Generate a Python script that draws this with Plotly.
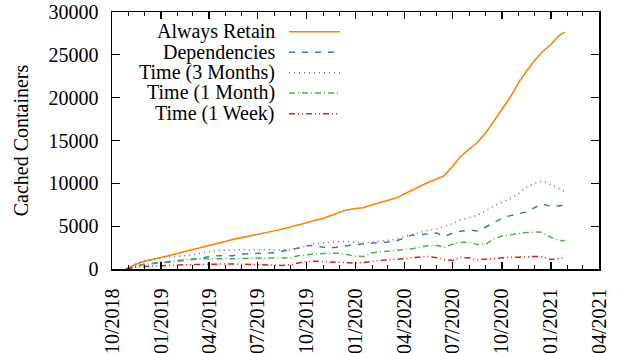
import plotly.graph_objects as go

dates = ["2018-10-28","2018-11-15","2018-12-01","2018-12-15","2019-01-01","2019-01-15",
         "2019-02-01","2019-02-15","2019-03-01","2019-03-15","2019-04-01","2019-04-15",
         "2019-05-01","2019-05-15","2019-06-01","2019-06-15","2019-07-01","2019-07-15",
         "2019-08-01","2019-08-15","2019-09-01","2019-09-15","2019-10-01","2019-10-15",
         "2019-11-01","2019-11-15","2019-12-01","2019-12-15","2020-01-01","2020-01-15",
         "2020-02-01","2020-02-15","2020-03-01","2020-03-15","2020-04-01","2020-04-15",
         "2020-05-01","2020-05-15","2020-06-01","2020-06-15","2020-07-01","2020-07-15",
         "2020-08-01","2020-08-15","2020-09-01","2020-09-15","2020-10-01","2020-10-15",
         "2020-11-01","2020-11-15","2020-12-01","2020-12-15","2021-01-01","2021-01-15",
         "2021-01-27"]

always_retain = [0,550,900,1100,1300,1500,1800,2050,2250,2450,2700,2950,3200,3450,3650,3850,
                 4050,4250,4450,4650,4900,5150,5400,5650,5900,6250,6600,6900,7050,7150,7500,
                 7750,8000,8250,8750,9200,9700,10100,10500,10900,12000,13100,14000,14700,15900,
                 17200,18600,19900,21700,23000,24300,25300,26200,27200,27650]
dependencies = [0,350,550,620,680,750,900,1000,1100,1250,1450,1550,1560,1560,1750,1800,1850,
                1870,1900,2050,2250,2450,2700,2750,2550,2450,2600,2750,2850,2930,3050,3100,
                3150,3250,3600,3950,4000,4100,4200,3800,4200,4400,4550,4450,4900,5400,5900,
                6200,6450,6650,7150,7600,7300,7350,7450]
time_3_months = [0,600,950,1150,1300,1380,1450,1500,1650,1850,2000,2150,2200,2250,2250,2230,
                 2270,2250,2230,2260,2250,2400,2700,2950,3050,3150,3200,3220,3150,3040,3150,
                 3250,3350,3450,3800,4050,4300,4500,4700,4950,5300,5700,6000,6250,6800,7350,
                 7800,8150,8800,9500,10000,10250,9850,9400,9000]
time_1_month = [0,350,550,650,720,800,920,1050,1180,1200,1170,1170,1190,1200,1250,1280,1280,
                1280,1280,1220,1300,1550,1700,1750,1800,1850,1850,1700,1500,1450,1900,2000,
                2100,2200,2280,2350,2550,2700,2750,2550,2900,3100,3150,2850,2900,3500,3850,
                4000,4150,4250,4320,4280,3700,3350,3300]
time_1_week = [0,200,280,340,400,430,470,500,530,560,580,580,580,580,570,540,500,480,450,420,
               500,700,880,900,860,830,780,720,700,750,920,1000,1050,1100,1200,1300,1400,1470,
               1300,1100,1000,1350,1300,1050,1150,1230,1320,1360,1380,1420,1470,1420,1100,1200,
               1330]

series_names = ["Always Retain", "Dependencies", "Time (3 Months)", "Time (1 Month)", "Time (1 Week)"]
series_values = [always_retain, dependencies, time_3_months, time_1_month, time_1_week]
colors = ["#ff7f00", "#377eb8", "#984ea3", "#4daf4a", "#e41a1c"]
dashes = ["solid", "6px,7px", "1px,4px", "6px,3px,1px,3px", "6px,3px,1px,3px,1px,3px"]

FONT = "Liberation Serif"

fig = go.Figure()
for name, vals, c, d in zip(series_names, series_values, colors, dashes):
    fig.add_trace(go.Scatter(x=dates, y=vals, mode="lines", name=name,
                             line=dict(color=c, width=1.5, dash=d), showlegend=False))

# gnuplot-style key: text right-aligned, sample line to the right
key_y = [0.923, 0.843, 0.764, 0.685, 0.604]
for name, c, d, ky in zip(series_names, colors, dashes, key_y):
    fig.add_annotation(x=0.338, y=ky, xref="paper", yref="paper", text=name,
                       showarrow=False, xanchor="right", yanchor="middle",
                       font=dict(family=FONT, size=20, color="black"))
    fig.add_shape(type="line", xref="paper", yref="paper", x0=0.3635, x1=0.468,
                  y0=ky, y1=ky, line=dict(color=c, width=1.5, dash=d))

fig.update_layout(
    width=619, height=353,
    margin=dict(l=112, r=20, t=12, b=84, autoexpand=False),
    paper_bgcolor="white", plot_bgcolor="white",
    font=dict(family=FONT, size=20, color="black"),
    xaxis=dict(
        type="date", range=["2018-10-01", "2021-04-01"], automargin=False,
        tick0="2018-10-01", dtick="M3", tickformat="%m/%Y", tickangle=-90,
        ticks="inside", ticklen=7, tickwidth=1.2, tickcolor="black",
        minor=dict(dtick="M1", ticks="inside", ticklen=4, tickwidth=1, tickcolor="black"),
        showline=True, linecolor="black", linewidth=1.5, mirror="ticks",
        showgrid=False, zeroline=False, ticklabelstandoff=10,
        tickfont=dict(family=FONT, size=20, color="black"),
    ),
    yaxis=dict(
        range=[0, 30000], dtick=5000, tick0=0, tickformat="d", automargin=False,
        ticks="inside", ticklen=8, tickwidth=1.2, tickcolor="black",
        showline=True, linecolor="black", linewidth=1.5, mirror="ticks",
        showgrid=False, zeroline=False, ticklabelstandoff=8,
        title=dict(text="Cached Containers", font=dict(family=FONT, size=20, color="black"), standoff=14),
        tickfont=dict(family=FONT, size=20, color="black"),
    ),
)

fig.write_html("out.html", config={"displayModeBar": False, "staticPlot": True},
               post_script="document.body.style.margin='0';")
